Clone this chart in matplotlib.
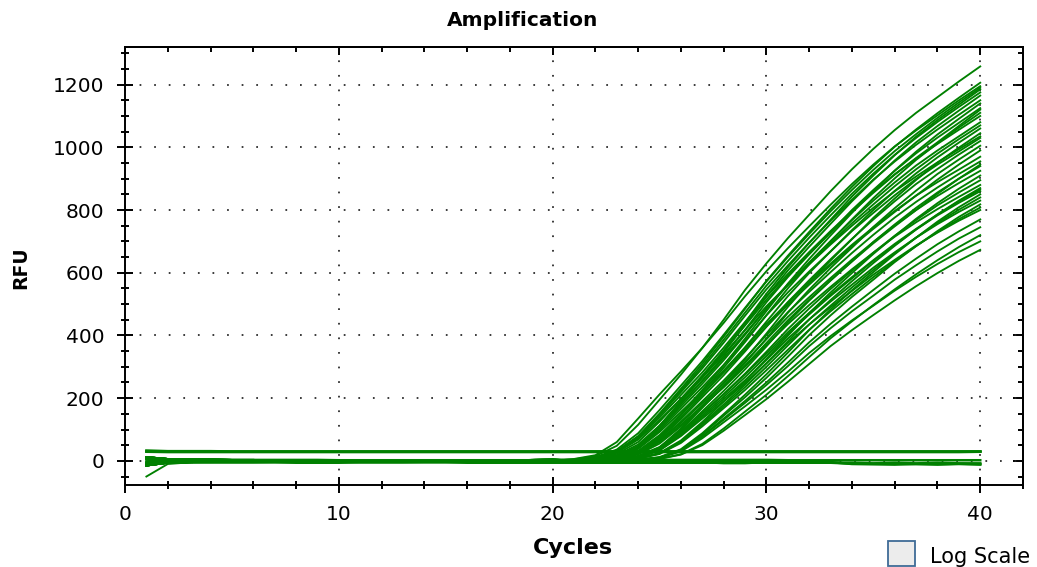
import matplotlib
matplotlib.use("Agg")
import matplotlib.pyplot as plt
from matplotlib.patches import Rectangle
from matplotlib.ticker import MultipleLocator

# cycles 1..40
cycles = list(range(1, 41))

# baseline reads before take-off, cycles 1-20
base_a = [12, 6, 4, 4, 3, 3, 2, 2, 2, 1, 1, 1, 1, 0, 0, 0, 0, 1, 1, 2]
base_b = [-15, -6, -4, -3, -3, -2, -2, -1, -1, -1, 0, 0, 0, 0, 0, 1, 1, 1, 2, 3]
base_c = [5, 2, 1, 1, 0, 0, -1, -1, -1, -2, -2, -2, -1, -1, -1, 0, 0, 0, 1, 2]
base_d = [-8, -3, -2, -2, -1, -1, 0, 0, 0, 0, 0, 0, 1, 1, 1, 1, 2, 2, 3, 4]
base_e = [-50, -10, -5, -4, -3, -3, -2, -2, -2, -1, -1, -1, -1, 0, 0, 0, 1, 1, 1, 2]
baselines = [base_a, base_b, base_c, base_d]

# amplifying wells, RFU at cycles 21-40
rise_rows = [
    [5, 15, 48, 115, 195, 275, 360, 450, 545, 630, 710, 785, 860, 930, 995, 1055, 1110, 1160, 1210, 1258],
    [2, 10, 31, 79, 151, 230, 310, 396, 485, 574, 654, 730, 804, 874, 940, 1002, 1057, 1109, 1158, 1206],
    [6, 18, 60, 135, 212, 285, 360, 440, 525, 605, 678, 748, 817, 883, 945, 1003, 1054, 1102, 1150, 1195],
    [2, 5, 15, 47, 112, 191, 270, 352, 441, 533, 617, 695, 769, 843, 910, 975, 1034, 1087, 1136, 1185],
    [2, 10, 30, 77, 147, 224, 302, 386, 473, 559, 637, 712, 783, 852, 916, 976, 1030, 1081, 1129, 1175],
    [2, 5, 15, 46, 110, 188, 265, 346, 434, 524, 607, 683, 756, 828, 895, 958, 1016, 1068, 1117, 1165],
    [2, 9, 29, 75, 144, 219, 295, 377, 463, 547, 623, 696, 766, 833, 897, 955, 1008, 1057, 1104, 1150],
    [1, 2, 10, 30, 77, 149, 226, 305, 390, 478, 565, 644, 719, 791, 860, 926, 986, 1041, 1091, 1140],
    [2, 5, 14, 44, 106, 181, 256, 334, 418, 506, 586, 659, 729, 800, 864, 925, 981, 1031, 1078, 1125],
    [1, 2, 9, 29, 75, 145, 220, 297, 379, 465, 550, 627, 700, 770, 838, 901, 960, 1013, 1063, 1110],
    [2, 9, 28, 72, 138, 210, 282, 361, 443, 524, 596, 666, 733, 797, 858, 914, 964, 1011, 1056, 1100],
    [2, 4, 13, 43, 102, 174, 246, 321, 402, 486, 563, 633, 701, 768, 830, 888, 942, 990, 1035, 1080],
    [1, 2, 9, 28, 72, 138, 210, 284, 362, 444, 525, 599, 668, 736, 800, 861, 917, 968, 1015, 1060],
    [1, 2, 5, 14, 43, 103, 176, 248, 324, 406, 491, 568, 639, 707, 775, 837, 896, 951, 999, 1045],
    [2, 8, 26, 68, 130, 197, 266, 340, 417, 493, 561, 627, 690, 750, 807, 860, 907, 952, 994, 1035],
    [2, 4, 13, 41, 97, 166, 235, 306, 383, 464, 537, 604, 668, 733, 791, 847, 899, 945, 987, 1030],
    [1, 2, 9, 27, 69, 133, 203, 273, 349, 428, 506, 576, 643, 708, 770, 828, 883, 931, 977, 1020],
    [1, 2, 4, 13, 41, 99, 169, 239, 312, 390, 472, 546, 615, 680, 746, 806, 862, 915, 961, 1005],
    [2, 4, 12, 38, 92, 156, 221, 288, 361, 436, 505, 569, 629, 689, 745, 797, 846, 889, 929, 970],
    [1, 2, 8, 25, 65, 125, 190, 256, 327, 401, 474, 539, 602, 663, 721, 776, 826, 872, 915, 955],
    [1, 2, 4, 12, 39, 93, 158, 223, 292, 365, 442, 511, 575, 636, 698, 754, 807, 856, 900, 940],
    [1, 2, 8, 25, 63, 121, 184, 247, 316, 388, 459, 522, 583, 642, 698, 751, 800, 845, 886, 925],
    [1, 1, 2, 8, 25, 65, 124, 189, 254, 325, 399, 471, 537, 599, 660, 717, 772, 822, 868, 910],
    [1, 2, 4, 12, 37, 88, 151, 213, 278, 348, 420, 486, 548, 606, 664, 718, 768, 815, 856, 895],
    [1, 2, 7, 23, 60, 115, 175, 235, 301, 369, 436, 497, 555, 611, 664, 715, 761, 803, 842, 880],
    [1, 1, 2, 8, 24, 62, 119, 180, 243, 311, 381, 451, 513, 573, 631, 686, 738, 786, 830, 870],
    [1, 2, 4, 11, 35, 85, 145, 204, 267, 334, 404, 467, 526, 582, 638, 689, 738, 783, 823, 860],
    [0, 1, 2, 4, 12, 37, 88, 149, 211, 276, 345, 417, 483, 544, 602, 659, 712, 763, 809, 850],
    [1, 1, 2, 7, 23, 60, 115, 174, 235, 300, 368, 435, 495, 553, 609, 662, 712, 759, 801, 840],
    [1, 2, 4, 11, 34, 82, 140, 197, 257, 322, 390, 451, 508, 562, 616, 665, 712, 755, 794, 830],
    [0, 1, 2, 4, 11, 35, 84, 144, 203, 265, 332, 401, 464, 523, 578, 634, 685, 733, 778, 818],
    [1, 1, 2, 7, 22, 57, 110, 168, 226, 289, 354, 418, 477, 532, 586, 637, 685, 730, 771, 808],
    [1, 2, 3, 10, 33, 79, 135, 190, 248, 311, 376, 435, 490, 542, 594, 641, 687, 728, 766, 800],
    [0, 1, 2, 3, 10, 33, 79, 135, 191, 250, 313, 378, 437, 492, 545, 597, 645, 691, 732, 770],
    [0, 1, 2, 3, 10, 32, 77, 131, 185, 242, 302, 366, 423, 477, 527, 578, 624, 668, 709, 745],
    [0, 0, 1, 2, 7, 21, 54, 103, 157, 211, 270, 331, 391, 445, 497, 547, 595, 640, 682, 720],
    [0, 1, 2, 3, 10, 30, 72, 123, 174, 227, 284, 344, 398, 448, 495, 543, 587, 628, 666, 700],
    [0, 0, 1, 2, 6, 20, 50, 96, 146, 197, 252, 309, 366, 417, 465, 512, 557, 599, 638, 673],
    [3, 12, 36, 88, 162, 240, 318, 402, 488, 572, 650, 724, 796, 864, 928, 988, 1042, 1094, 1143, 1190],
    [2, 7, 22, 60, 125, 198, 272, 350, 432, 514, 590, 660, 728, 794, 855, 913, 966, 1016, 1068, 1120],
    [2, 6, 18, 52, 112, 182, 254, 328, 406, 486, 560, 628, 694, 758, 818, 876, 930, 980, 1026, 1070],
    [1, 3, 10, 32, 82, 148, 214, 282, 354, 428, 498, 562, 624, 684, 740, 794, 846, 897, 945, 990],
    [1, 2, 6, 20, 55, 110, 172, 236, 304, 376, 448, 514, 576, 636, 694, 748, 800, 852, 900, 945],
    [1, 2, 5, 16, 44, 94, 152, 212, 276, 342, 410, 472, 530, 586, 640, 692, 740, 786, 828, 865],
]
dip_well = 35  # the well whose first read sits at -50

# wells that never take off, cycles 1-40
flat_hi1 = [33, 31, 31, 31, 30, 30, 30, 30, 30, 30, 30, 30, 30, 30, 30, 30, 30, 30, 30, 30,
            30, 30, 30, 30, 30, 30, 30, 30, 30, 30, 30, 30, 30, 30, 30, 30, 30, 30, 30, 30]
flat_hi2 = [29, 28, 28, 28, 28, 28, 28, 28, 28, 28, 28, 28, 28, 28, 28, 28, 28, 28, 28, 28,
            28, 28, 28, 28, 28, 28, 28, 28, 28, 28, 28, 28, 28, 28, 28, 28, 28, 28, 28, 29]
flat_hi3 = [32, 32, 32, 32, 32, 32, 32, 32, 32, 32, 32, 32, 32, 32, 32, 32, 32, 32, 32, 32,
            32, 32, 32, 32, 32, 32, 32, 32, 32, 32, 32, 32, 32, 32, 32, 32, 32, 32, 32, 32]
flat_lo1 = [-12, -6, -5, -4, -4, -4, -3, -3, -3, -3, -4, -4, -4, -3, -3, -3, -3, -3, -3, -3,
            -4, -4, -4, -4, -4, -4, -4, -7, -7, -4, -4, -4, -4, -10, -11, -12, -10, -12, -10, -12]
flat_lo2 = [8, 5, 4, 4, 3, 3, 3, 3, 3, 2, 2, 2, 2, 2, 2, 2, 2, 2, 2, 2,
            2, 2, 3, 3, 3, 3, 3, 3, 3, 3, 2, 2, 2, 2, 2, 2, 2, 2, 2, 2]
flat_lo3 = [-4, -2, -1, -1, -1, 0, 0, 0, 0, 0, -1, -1, -1, -1, -1, 0, 0, 0, 0, 0,
            0, 0, 0, 0, 0, 0, 0, 0, 0, 0, -5, -5, -6, -6, -8, -6, -8, -6, -8, -8]
flat_lo4 = [-6, -4, -4, -5, -5, -5, -5, -6, -6, -6, -5, -5, -5, -5, -5, -6, -6, -6, -6, -6,
            -6, -6, -6, -6, -6, -6, -6, -6, -6, -6, -6, -6, -6, -9, -9, -9, -10, -10, -9, -10]
flat_rows = [flat_hi1, flat_hi2, flat_hi3, flat_lo1, flat_lo2, flat_lo3, flat_lo4]

green = '#008000'

fig = plt.figure(figsize=(10.37, 5.67), dpi=100)
ax = fig.add_axes([125/1037, 1-485/567, (1023-125)/1037, (485-47)/567])

for row in flat_rows:
    ax.plot(cycles, row, color=green, lw=1.8, solid_joinstyle='miter')
for i, row in enumerate(rise_rows):
    bl = base_e if i == dip_well else baselines[i % 4]
    ax.plot(cycles, bl + row, color=green, lw=1.35)

ax.set_xlim(0, 42)
ax.set_ylim(-77, 1320)

ax.xaxis.set_major_locator(MultipleLocator(10))
ax.xaxis.set_minor_locator(MultipleLocator(2))
ax.yaxis.set_major_locator(MultipleLocator(200))
ax.yaxis.set_minor_locator(MultipleLocator(50))
ax.set_xticks([0, 10, 20, 30, 40])

ax.grid(True, which='major', color='#222222', linestyle=(0, (1, 7.4)), lw=1.25)
for s in ax.spines.values():
    s.set_linewidth(1.4)

ax.tick_params(which='major', direction='inout', length=11.5, width=1.4,
               labelsize=14.5, pad=9, top=False, right=False)
ax.tick_params(which='minor', direction='inout', length=6, width=1.4,
               top=False, right=False)

# inward ticks on top and right
topax = ax.secondary_xaxis('top')
topax.xaxis.set_major_locator(MultipleLocator(10))
topax.xaxis.set_minor_locator(MultipleLocator(2))
topax.tick_params(which='major', direction='in', length=6, width=1.4, labeltop=False)
topax.tick_params(which='minor', direction='in', length=3.5, width=1.4)
topax.spines['top'].set_linewidth(1.4)
rax = ax.secondary_yaxis('right')
rax.yaxis.set_major_locator(MultipleLocator(200))
rax.yaxis.set_minor_locator(MultipleLocator(50))
rax.tick_params(which='major', direction='in', length=7, width=1.4, labelright=False)
rax.tick_params(which='minor', direction='in', length=3.5, width=1.4)
rax.spines['right'].set_linewidth(1.4)

fig.text(523/1037, 1-20/567, 'Amplification', ha='center', va='center',
         fontsize=14.5, fontweight='bold')
fig.text(573/1037, 1-548/567, 'Cycles', ha='center', va='center',
         fontsize=16, fontweight='bold')
fig.text(21/1037, 1-268/567, 'RFU', ha='center', va='center', rotation=90,
         fontsize=13.5, fontweight='bold')

# log scale checkbox
fig.patches.append(Rectangle((888/1037, 1/567), 27/1037, 25/567,
                             transform=fig.transFigure, facecolor='#ececec',
                             edgecolor='#3f6b96', lw=1.3))
fig.text(930/1037, 4/567, 'Log Scale', ha='left', va='baseline', fontsize=15)

fig.savefig('out.png', dpi=100)
